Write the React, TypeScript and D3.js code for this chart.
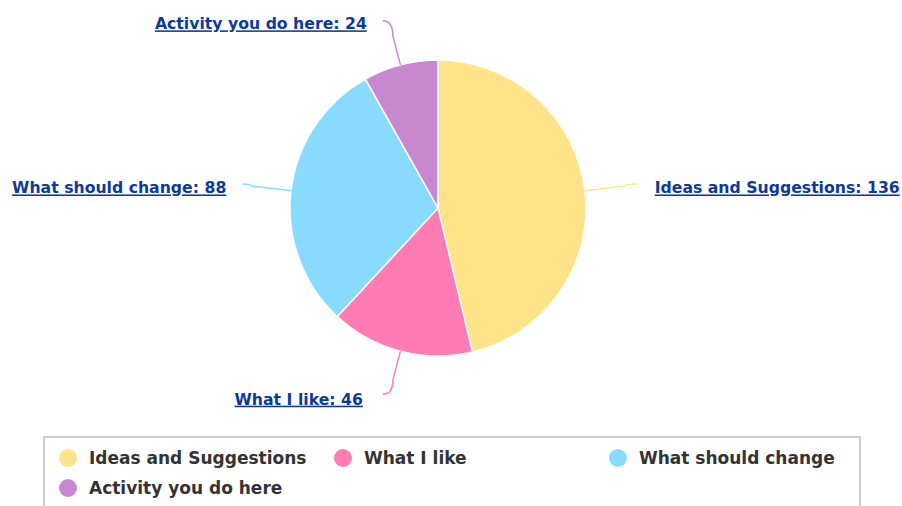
import React from 'react'
import * as d3 from 'd3'

const categories = ['Ideas and Suggestions', 'What I like', 'What should change', 'Activity you do here']
const values = [136, 46, 88, 24]
const colors = ['#FFE388', '#FF7BB4', '#88DBFF', '#C888D0']

const W = 902
const H = 506

const App: React.FC = () => {
  const cx = 438
  const cy = 208
  const r = 148

  const pie = d3.pie<number>().sort(null).value(d => d)
  const arcs = pie(values)
  const arc = d3.arc<d3.PieArcDatum<number>>().innerRadius(0).outerRadius(r)

  // legend layout
  const legendX = 44
  const legendY = 437
  const colW = 275
  const rowH = 30

  return (
    <div style={{ position: 'absolute', left: 0, top: 0 }}>
      <svg width={W} height={H} style={{ display: 'block', fontFamily: 'DejaVu Sans, Verdana, sans-serif' }}>
        <rect width={W} height={H} fill="#ffffff" />
        <g transform={`translate(${cx},${cy})`}>
          {arcs.map((a, i) => (
            <path key={i} d={arc(a) || ''} fill={colors[i]} stroke="#ffffff" strokeWidth={1.5} />
          ))}
          {arcs.map((a, i) => {
            const mid = (a.startAngle + a.endAngle) / 2
            const sx = Math.sin(mid)
            const sy = -Math.cos(mid)
            const right = sx >= 0
            const dir = right ? 1 : -1
            const vertical = Math.abs(sy) > 0.5
            const p0 = [sx * r, sy * r]
            const bendR = vertical ? r + 30 : r + 40
            const p1 = [sx * bendR, sy * bendR]
            // end of the connector, next to the label
            const end = vertical
              ? [p1[0] + dir * 10, p1[1] + (sy < 0 ? -15 : 14)]
              : [p1[0] + dir * (right ? 13 : 9), p1[1] - 2]
            const d = `M${end[0]},${end[1]} Q${p1[0]},${end[1]} ${p1[0]},${p1[1]} L${p0[0]},${p0[1]}`
            const gap = vertical ? (sy < 0 ? 16 : 20) : right ? 17 : 16
            const tx = end[0] + dir * gap
            return (
              <g key={'l' + i}>
                <path d={d} fill="none" stroke={colors[i]} strokeWidth={1.5} />
                <text
                  x={tx}
                  y={end[1] + (vertical ? (sy < 0 ? 3 : 5) : 4)}
                  dy="0.35em"
                  textAnchor={right ? 'start' : 'end'}
                  fontSize={15.7}
                  fontWeight="bold"
                  fill="#0D3A99"
                  textDecoration="underline"
                >
                  {`${categories[i]}: ${values[i]}`}
                </text>
              </g>
            )
          })}
        </g>
        <rect x={legendX} y={legendY} width={816} height={120} fill="#ffffff" stroke="#cccccc" strokeWidth={2} />
        {categories.map((c, i) => {
          const col = i % 3
          const row = Math.floor(i / 3)
          const x = legendX + 24 + col * colW
          const y = legendY + 21 + row * rowH
          return (
            <g key={'lg' + i} transform={`translate(${x},${y})`}>
              <circle r={9} fill={colors[i]} />
              <text x={21} dy="0.35em" fontSize={17} fontWeight="bold" fill="#333333">
                {c}
              </text>
            </g>
          )
        })}
      </svg>
    </div>
  )
}

export default App
